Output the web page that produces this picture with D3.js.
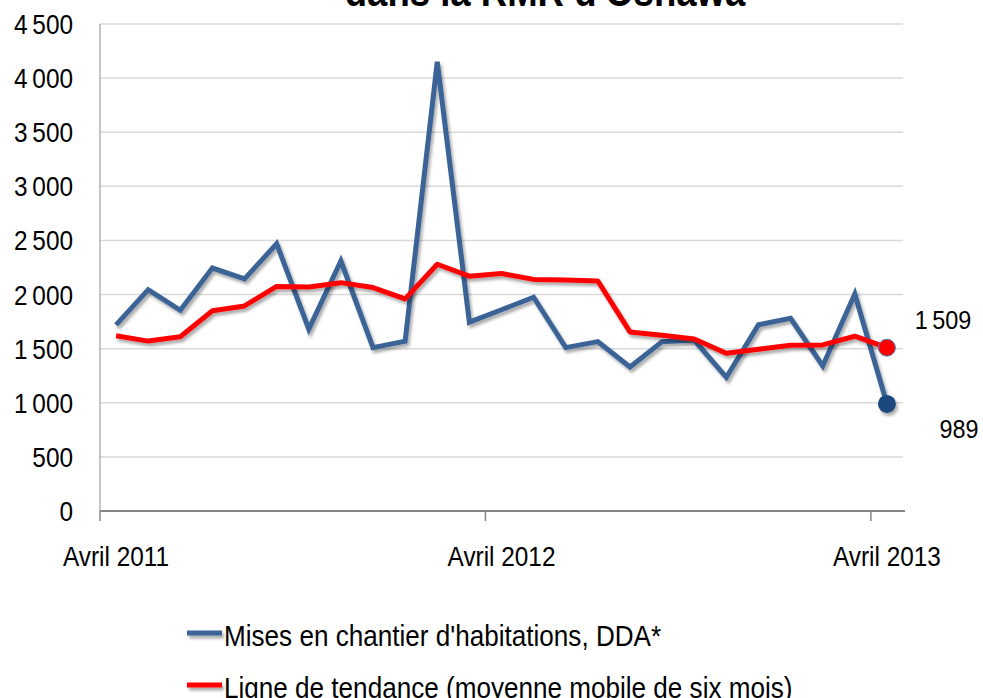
<!DOCTYPE html>
<html>
<head>
<meta charset="utf-8">
<script src="https://cdn.jsdelivr.net/npm/d3@7"></script>
<style>
  body { margin: 0; background: #fff; }
  svg { display: block; font-family: "Liberation Sans", Arial, sans-serif; }
</style>
</head>
<body>
<svg id="chart" width="983" height="698"></svg>
<script>
// months, April 2011 -> April 2013
var months = ["2011-04","2011-05","2011-06","2011-07","2011-08","2011-09","2011-10","2011-11","2011-12",
  "2012-01","2012-02","2012-03","2012-04","2012-05","2012-06","2012-07","2012-08","2012-09","2012-10",
  "2012-11","2012-12","2013-01","2013-02","2013-03","2013-04"];

// housing starts, SAAR
var starts = [1720, 2045, 1855, 2245, 2145, 2470, 1680, 2310, 1510, 1570, 4150, 1745, 1860,
  1975, 1510, 1565, 1330, 1565, 1580, 1235, 1720, 1780, 1340, 2005, 989];

// six month moving average
var trend = [1620, 1570, 1610, 1850, 1895, 2075, 2070, 2110, 2065, 1960, 2280, 2170, 2195,
  2140, 2135, 2125, 1655, 1625, 1590, 1457, 1495, 1532, 1535, 1615, 1509];

var yTicks = [0, 500, 1000, 1500, 2000, 2500, 3000, 3500, 4000, 4500];
var xLabelIdx = [0, 12, 24];
var xLabels = ["Avril 2011", "Avril 2012", "Avril 2013"];
var seriesNames = ["Mises en chantier d'habitations, DDA*", "Ligne de tendance (moyenne mobile de six mois)"];
var title = "dans la RMR d'Oshawa";

var blue = "#3b6496", red = "#ff0000";
var sx = 0.87; // the picture's text is horizontally squeezed

var svg = d3.select("svg");

// soft drop shadow, in user space so flat shapes keep it
var f = svg.append("defs").append("filter").attr("id", "shadow")
  .attr("filterUnits", "userSpaceOnUse")
  .attr("x", 0).attr("y", 0).attr("width", 983).attr("height", 698);
f.append("feDropShadow").attr("dx", 2).attr("dy", 3).attr("stdDeviation", 1.8)
  .attr("flood-color", "#000").attr("flood-opacity", 0.33);

var x = d3.scaleBand().domain(d3.range(months.length)).range([100, 903]);
var y = d3.scaleLinear().domain([0, 4500]).range([511, 24]);
var cx = function (i) { return x(i) + x.bandwidth() / 2; };
var fmt = function (d) { return d3.format(",")(d).replace(",", "\u2009"); };

function label(sel, tx, ty, anchor, k) {
  return sel.append("text")
    .attr("transform", "translate(" + tx + "," + ty + ") scale(" + (k || sx) + ",1)")
    .attr("text-anchor", anchor || "start")
    .attr("fill", "#000");
}

// title, clipped by the top edge
label(svg, 545, 6, "middle").attr("font-size", 42).attr("font-weight", "bold").text(title);

// gridlines
svg.append("g").selectAll("line").data(yTicks.slice(1)).enter().append("line")
  .attr("x1", 100).attr("x2", 903)
  .attr("y1", function (d) { return y(d); }).attr("y2", function (d) { return y(d); })
  .attr("stroke", "#d9d9d9").attr("stroke-width", 1.5);

// y axis
svg.append("line").attr("x1", 100).attr("x2", 100).attr("y1", y(4500)).attr("y2", y(0))
  .attr("stroke", "#8c8c8c").attr("stroke-width", 1);
yTicks.forEach(function (d) {
  label(svg, 73, y(d) + 10, "end").attr("font-size", 28).text(fmt(d));
});

// x axis
svg.append("line").attr("x1", 100).attr("x2", 905).attr("y1", y(0)).attr("y2", y(0))
  .attr("stroke", "#868686").attr("stroke-width", 2);
xLabelIdx.forEach(function (i, k) {
  svg.append("line").attr("x1", x(i)).attr("x2", x(i)).attr("y1", y(0)).attr("y2", y(0) + 10)
    .attr("stroke", "#868686").attr("stroke-width", 1.5);
  label(svg, cx(i), 566, "middle").attr("font-size", 28).text(xLabels[k]);
});

var line = d3.line().x(function (d, i) { return cx(i); }).y(function (d) { return y(d); });

svg.append("path").datum(starts).attr("d", line)
  .attr("fill", "none").attr("stroke", blue).attr("stroke-width", 5)
  .attr("stroke-linejoin", "miter").attr("filter", "url(#shadow)");

svg.append("path").datum(trend).attr("d", line)
  .attr("fill", "none").attr("stroke", red).attr("stroke-width", 5)
  .attr("stroke-linejoin", "round").attr("filter", "url(#shadow)");

// end markers
var last = months.length - 1;
svg.append("circle").attr("cx", cx(last)).attr("cy", y(starts[last])).attr("r", 9)
  .attr("fill", "#1f497d").attr("filter", "url(#shadow)");
svg.append("circle").attr("cx", cx(last)).attr("cy", y(trend[last])).attr("r", 8.5)
  .attr("fill", red).attr("stroke", "#4f81bd").attr("stroke-width", 1);

label(svg, 943, 329, "middle", 0.9).attr("font-size", 26).text(fmt(trend[last]));
label(svg, 959, 438, "middle", 0.9).attr("font-size", 26).text(starts[last]);

// legend
var legend = [{ name: seriesNames[0], color: blue, y: 633 }, { name: seriesNames[1], color: red, y: 685 }];
legend.forEach(function (d) {
  svg.append("line").attr("x1", 187).attr("x2", 222).attr("y1", d.y).attr("y2", d.y)
    .attr("stroke", d.color).attr("stroke-width", 5).attr("filter", "url(#shadow)");
  label(svg, 224, d.y + 13, "start", 0.9).attr("font-size", 29).text(d.name);
});
</script>
</body>
</html>
